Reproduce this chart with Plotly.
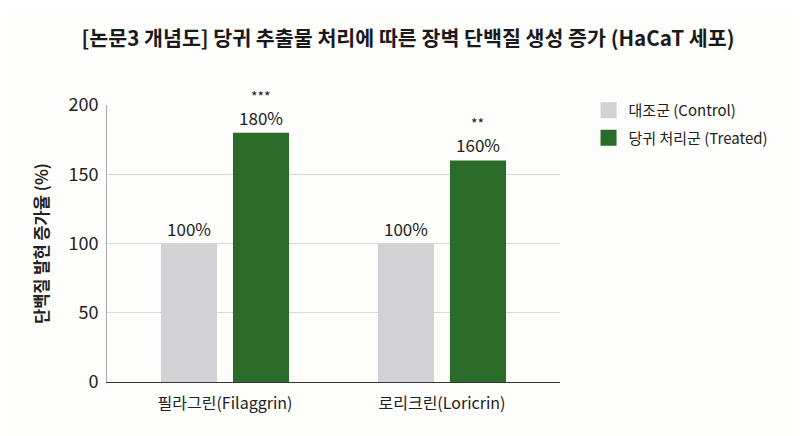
import plotly.graph_objects as go

categories = ['필라그린(Filaggrin)', '로리크린(Loricrin)']
control_values = [100, 100]
treated_values = [180, 160]
significance = ['***', '**']
y_ticks = [0, 50, 100, 150, 200]

font_family = "Noto Sans CJK KR, Noto Sans, sans-serif"
control_color = '#d2d2d4'
treated_color = '#2a6b2a'

# treated bar sits right of the category centre by half a bar slot
treated_offset = 0.166

fig = go.Figure()

fig.add_trace(go.Bar(
    x=categories, y=control_values,
    name='대조군 (Control)',
    marker=dict(color=control_color, line=dict(width=0)),
    text=[f"{v}%" for v in control_values],
    textposition='outside',
    textfont=dict(size=17, color='#222222'),
    cliponaxis=False,
    showlegend=False,
))

fig.add_trace(go.Bar(
    x=categories, y=treated_values,
    name='당귀 처리군 (Treated)',
    marker=dict(color=treated_color, line=dict(width=0)),
    text=[f"{v}%" for v in treated_values],
    textposition='outside',
    textfont=dict(size=17, color='#222222'),
    cliponaxis=False,
    showlegend=False,
))

# legend entries with bigger square swatches
for name, color, grp in [('대조군 (Control)', control_color, 'a'),
                         ('당귀 처리군 (Treated)', treated_color, 'b')]:
    fig.add_trace(go.Scatter(
        x=[None], y=[None], mode='markers', name=name, legendgroup=grp,
        marker=dict(symbol='square', size=18, color=color),
    ))

for i, (v, s) in enumerate(zip(treated_values, significance)):
    fig.add_annotation(
        x=i + treated_offset, y=v, text=s, showarrow=False,
        yanchor='bottom', yshift=25,
        font=dict(size=14, color='#222222'),
    )

fig.update_layout(
    width=800, height=436,
    paper_bgcolor='#fdfdfb',
    plot_bgcolor='#fdfdfb',
    font=dict(family=font_family, color='#222222'),
    title=dict(
        text='<b>[논문3 개념도] 당귀 추출물 처리에 따른 장벽 단백질 생성 증가 (HaCaT 세포)</b>',
        x=0.5, xanchor='center', y=0.93, yanchor='middle',
        font=dict(size=20.6, color='#1a1a1a'),
    ),
    barmode='group',
    bargap=0.336,
    bargroupgap=0.222,
    margin=dict(l=99, r=248, t=97, b=62),
    legend=dict(
        x=1.063, xanchor='left', y=1.04, yanchor='top',
        font=dict(size=15, color='#222222'),
        bgcolor='rgba(0,0,0,0)',
        itemsizing='trace',
        tracegroupgap=5,
    ),
)

fig.update_xaxes(
    range=[-0.544, 1.544],
    showline=True, linecolor='#333333', linewidth=1.2,
    ticks='', tickfont=dict(size=16, color='#222222'),
    ticklabelstandoff=7,
    showgrid=False,
)

fig.update_yaxes(
    range=[0, 200],
    tickvals=y_ticks,
    showline=True, linecolor='#aaaaaa', linewidth=1,
    gridcolor='#d9d9d9', gridwidth=1,
    tickfont=dict(size=18, color='#222222'),
    ticks='', ticklen=0,
    ticklabelstandoff=4,
    zeroline=False,
    title=dict(text='<b>단백질 발현 증가율 (%)</b>', font=dict(size=16.5, color='#222222'), standoff=15),
)

fig.write_html("out.html")
